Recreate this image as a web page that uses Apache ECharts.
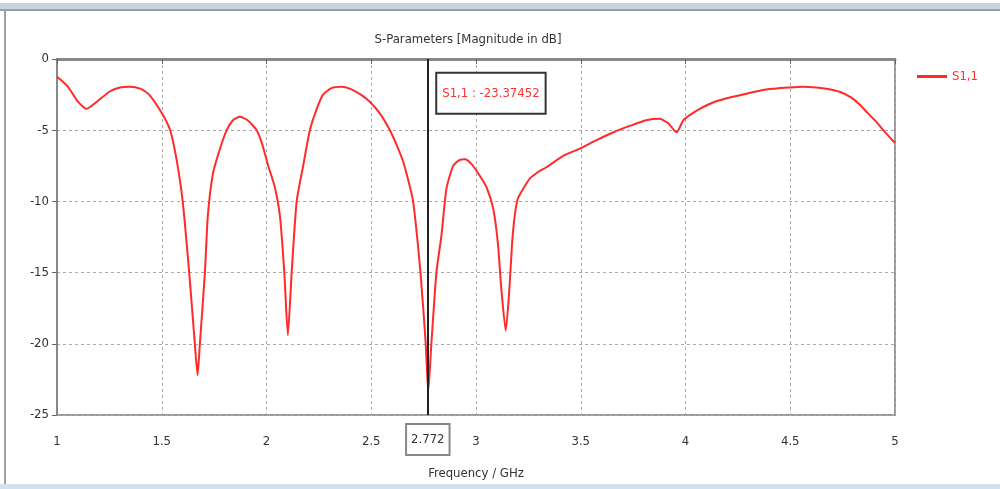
<!DOCTYPE html>
<html>
<head>
<meta charset="utf-8">
<script src="https://cdn.jsdelivr.net/npm/echarts@6/dist/echarts.min.js"></script>
<style>
  html, body { margin: 0; padding: 0; background: #fff; }
  #main { width: 1000px; height: 489px; }
</style>
</head>
<body>
<div id="main"></div>
<script>
// S1,1 curve (GHz / dB)
const freq = [1.00, 1.05, 1.10, 1.142, 1.19, 1.25, 1.30, 1.348, 1.40, 1.44, 1.50, 1.54, 1.57, 1.60, 1.631, 1.658, 1.671, 1.682, 1.706, 1.72,
  1.745, 1.778, 1.81, 1.84, 1.873, 1.91, 1.953, 1.98, 2.008, 2.04, 2.064, 2.085, 2.102, 2.12, 2.144, 2.175, 2.207, 2.24, 2.27, 2.31,
  2.358, 2.40, 2.45, 2.493, 2.54, 2.589, 2.62, 2.652, 2.68, 2.70, 2.735, 2.76, 2.772, 2.787, 2.811, 2.835, 2.859, 2.891, 2.92, 2.947,
  2.98, 3.018, 3.05, 3.082, 3.105, 3.12, 3.142, 3.16, 3.172, 3.185, 3.20, 3.23, 3.257, 3.30, 3.336, 3.416, 3.495, 3.575, 3.654, 3.734,
  3.813, 3.877, 3.917, 3.957, 3.99, 4.02, 4.068, 4.14, 4.227, 4.30, 4.386, 4.497, 4.56, 4.624, 4.68, 4.736, 4.79, 4.831, 4.87, 4.91,
  4.95, 5.00];
const s11 = [-1.24, -1.9, -3.0, -3.5, -3.0, -2.3, -2.0, -1.95, -2.1, -2.5, -3.8, -5.0, -7.0, -10, -15, -20, -22.2, -20, -15, -11,
  -8, -6.3, -5.0, -4.3, -4.06, -4.3, -5.0, -6.0, -7.5, -9, -11, -15, -19.4, -15, -10, -7.5, -5.0, -3.5, -2.5, -2.05,
  -1.95, -2.1, -2.5, -3.0, -3.8, -5.0, -6.0, -7.2, -8.7, -10, -15, -20, -23.37, -20, -15, -12.4, -9.1, -7.5, -7.1, -7.04,
  -7.4, -8.2, -9, -10.5, -13, -16, -19.1, -16, -13, -11, -9.8, -9.0, -8.4, -7.9, -7.6, -6.8, -6.3, -5.7, -5.16, -4.7,
  -4.3, -4.2, -4.5, -5.15, -4.3, -3.94, -3.5, -3.0, -2.65, -2.4, -2.14, -2.0, -1.95, -2.0, -2.1, -2.3, -2.7, -3.2, -3.8, -4.4,
  -5.1, -5.9];

const seriesName = 'S1,1';
const markerFreq = 2.772;
const markerValue = '-23.37452';
const markerLabelDb = -2.4; // where the readout box sits

const font = '"Liberation Sans Narrow", "DejaVu Sans Condensed", "Liberation Sans", sans-serif';

let myChart = echarts.init(document.getElementById('main'), null, { renderer: 'canvas' });
myChart.setOption({
    animation: false,
    title: {
        text: 'S-Parameters [Magnitude in dB]',
        left: 463,
        top: 28,
        textAlign: 'center',
        textStyle: { fontFamily: font, fontSize: 13, fontWeight: 'normal', color: '#333' }
    },
    legend: {
        left: 912,
        top: 65,
        icon: 'rect',
        itemWidth: 30,
        itemHeight: 3,
        itemGap: 6,
        textStyle: { fontFamily: font, fontSize: 13, color: '#ff3030' },
        data: [seriesName]
    },
    graphic: [
        { type: 'rect', shape: { x: 0, y: 3, width: 1000, height: 6 }, style: { fill: '#c9d3df' }, silent: true },
        { type: 'rect', shape: { x: 0, y: 9, width: 1000, height: 2 }, style: { fill: '#9aa0a8' }, silent: true },
        { type: 'rect', shape: { x: 4, y: 9, width: 2, height: 476 }, style: { fill: '#a0a0a0' }, silent: true },
        { type: 'rect', shape: { x: 0, y: 484, width: 1000, height: 5 }, style: { fill: '#d5e0ee' }, silent: true }
    ],
    grid: {
        left: 57, right: 105, top: 59, bottom: 74,
        show: true, borderColor: '#999', borderWidth: 2
    },
    xAxis: {
        type: 'value',
        min: 1, max: 5, interval: 0.5,
        name: 'Frequency / GHz',
        nameLocation: 'middle',
        nameGap: 52,
        nameTextStyle: { fontFamily: font, fontSize: 13, color: '#333' },
        axisLine: { show: true, lineStyle: { color: '#888', width: 3 } },
        axisTick: { show: true, length: 5, lineStyle: { color: '#666' } },
        axisLabel: { margin: 20, fontFamily: font, fontSize: 13, color: '#333' },
        splitLine: { show: true, lineStyle: { color: '#aaa', type: [3, 3], width: 1 } }
    },
    yAxis: {
        type: 'value',
        min: -25, max: 0, interval: 5,
        axisLine: { show: true, lineStyle: { color: '#888', width: 2 } },
        axisTick: { show: true, length: 5, lineStyle: { color: '#666' } },
        axisLabel: { margin: 8, fontFamily: font, fontSize: 13, color: '#333' },
        splitLine: { show: true, lineStyle: { color: '#aaa', type: [3, 3], width: 1 } }
    },
    series: [
        {
            name: seriesName,
            type: 'line',
            data: freq.map((f, i) => [f, s11[i]]),
            showSymbol: false,
            smooth: 0.2,
            lineStyle: { color: '#ff2a2a', width: 2 },
            itemStyle: { color: '#ff2a2a' },
            markLine: {
                silent: true,
                symbol: 'none',
                lineStyle: { color: '#222', width: 2, type: 'solid' },
                label: {
                    show: true,
                    position: 'start',
                    distance: 10,
                    formatter: String(markerFreq),
                    fontFamily: font,
                    fontSize: 13,
                    color: '#333',
                    backgroundColor: '#fff',
                    borderColor: '#888',
                    borderWidth: 2,
                    padding: [8, 4]
                },
                data: [{ xAxis: markerFreq }]
            },
            markPoint: {
                silent: true,
                symbol: 'rect',
                symbolSize: 0,
                label: {
                    show: true,
                    position: 'right',
                    distance: 9,
                    formatter: seriesName + ' : ' + markerValue,
                    fontFamily: font,
                    fontSize: 13,
                    color: '#ff3030',
                    backgroundColor: '#fff',
                    borderColor: '#333',
                    borderWidth: 2,
                    padding: [13, 5]
                },
                data: [{ coord: [markerFreq, markerLabelDb] }]
            }
        }
    ]
});
</script>
</body>
</html>
